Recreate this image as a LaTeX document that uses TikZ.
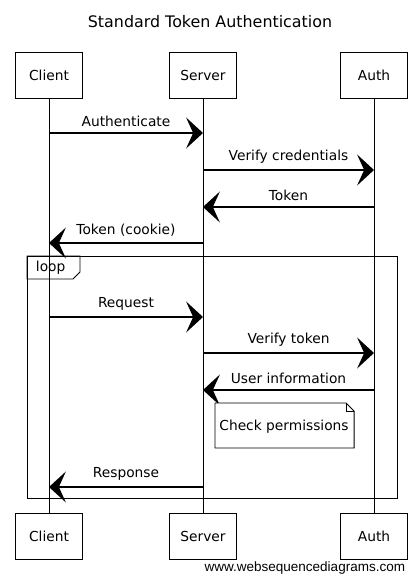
\documentclass[tikz,border=0pt]{standalone}
\usepackage{fontspec}
\setmainfont{DejaVu Sans}
\newfontfamily\wsdfont{Liberation Sans}
\usetikzlibrary{positioning,arrows.meta,calc}

\begin{document}
\begin{tikzpicture}[x=0.025cm, y=-0.025cm, font=\fontsize{9.8}{12}\selectfont,
  actor/.style={draw, line width=0.65pt, minimum width=1.68cm, minimum height=1.15cm, inner sep=0pt},
  life/.style={line width=0.6pt},
  msg/.style={-{Stealth[length=12pt,width=22pt,inset=5pt]}, line width=0.9pt},
  frame/.style={draw, line width=0.7pt},
  notebox/.style={draw, line width=0.7pt, fill=white}]
\useasboundingbox (0,0) rectangle (418,582);
\node[font=\fontsize{11.3}{13}\selectfont] (title) at (210,22) {Standard Token Authentication};
% participants, top and bottom
\node[actor] (cl) at (49,75) {Client};
\node[actor] (sv) at (203,75) {Server};
\node[actor] (au) at (374,75) {Auth};
\node[actor] (clb) at (49,536) {Client};
\node[actor] (svb) at (203,536) {Server};
\node[actor] (aub) at (374,536) {Auth};
\draw[life] (cl) -- (clb);
\draw[life] (sv) -- (svb);
\draw[life] (au) -- (aub);
% login
\foreach \y/\from/\to/\txt in {133/cl/sv/Authenticate, 170/sv/au/Verify credentials,
    207/au/sv/Token, 243/sv/cl/Token (cookie)}
  \draw[msg] (\from |- 0,\y) -- node[above=1pt] {\txt} (\to |- 0,\y);
% loop
\draw[frame] (27,256) rectangle (397,498);
\draw[frame] (27,256) -- (80,256) -- (80,272) -- (73,279) -- (27,279) -- cycle;
\node[anchor=west] (lp) at (31,268) {loop};
\foreach \y/\from/\to/\txt in {317/cl/sv/Request, 353/sv/au/Verify token,
    390/au/sv/User information, 487/sv/cl/Response}
  \draw[msg] (\from |- 0,\y) -- node[above=1pt] {\txt} (\to |- 0,\y);
% note
\draw[notebox] (215,403) -- (346,403) -- (354,411) -- (354,448) -- (215,448) -- cycle;
\draw[line width=0.6pt] (346,403) -- (346,411) -- (354,411);
\node (chk) at (284,427) {Check permissions};
\node[font=\wsdfont\fontsize{9.6}{12}\selectfont, anchor=east] (wsd) at (410,568) {www.websequencediagrams.com};
\end{tikzpicture}
\end{document}
